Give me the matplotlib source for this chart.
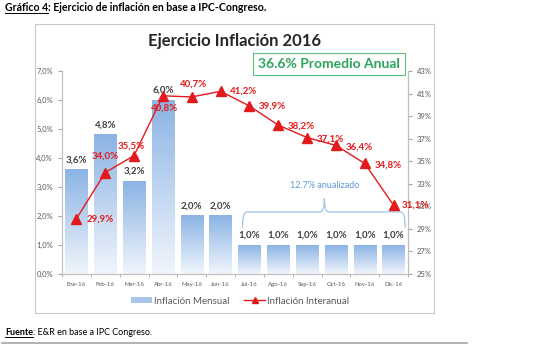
import numpy as np
import matplotlib
matplotlib.use("Agg")
import matplotlib.pyplot as plt
from matplotlib.patches import Rectangle, Patch, PathPatch
from matplotlib.lines import Line2D
from matplotlib.path import Path
from matplotlib.colors import LinearSegmentedColormap

plt.rcParams['font.family'] = ['Lato', 'DejaVu Sans']

# data
months = ["Ene-16", "Feb-16", "Mar-16", "Abr-16", "May-16", "Jun-16",
          "Jul-16", "Ago-16", "Sep-16", "Oct-16", "Nov-16", "Dic-16"]
mensual = [3.6, 4.8, 3.2, 6.0, 2.0, 2.0, 1.0, 1.0, 1.0, 1.0, 1.0, 1.0]
interanual = [29.9, 34.0, 35.5, 40.8, 40.7, 41.2, 39.9, 38.2, 37.1, 36.4, 34.8, 31.1]
left_ticks = [0, 1, 2, 3, 4, 5, 6, 7]
right_ticks = [25, 27, 29, 31, 33, 35, 37, 39, 41, 43]

RED = "#e31a1c"
GRAY = "#595959"

fig = plt.figure(figsize=(5.54, 3.45), dpi=100)
ax = fig.add_axes([62 / 554, 1 - 274 / 345, (408 - 62) / 554, (274 - 71) / 345])
ax2 = ax.twinx()

x = np.arange(len(months))
w = 0.77
cmap = LinearSegmentedColormap.from_list("g", ["#f0f5fc", "#8cb4e4"])
grad = np.linspace(0, 1, 100).reshape(-1, 1)
for xi, v in zip(x, mensual):
    ax.imshow(grad, extent=[xi - w / 2, xi + w / 2, 0, v], origin="lower",
              cmap=cmap, aspect="auto", zorder=1)
    ax.text(xi, v + 0.18, f"{v:.1f}%".replace(".", ","), ha="center", va="bottom",
            fontsize=7, fontweight="bold", color="#404040")

ax.set_xlim(-0.5, len(months) - 0.5)
ax.set_ylim(0, 7)
ax.set_yticks(left_ticks)
ax.set_yticklabels([f"{t:.1f}%".replace(".", ",") for t in left_ticks])
ax.set_xticks(x)
ax.set_xticklabels(months)
ax.set_xticks(np.arange(-0.5, len(months)), minor=True)
ax.tick_params(axis="x", which="major", length=0, labelsize=4.3, labelcolor=GRAY, pad=6)
ax.tick_params(axis="x", which="minor", length=2.5, color="#a6a6a6")
ax.tick_params(axis="y", length=3, color="#a6a6a6", labelsize=5.5, labelcolor=GRAY)

ax2.plot(x, interanual, color=RED, lw=1, marker="^", ms=6.5, zorder=5)
ax2.set_ylim(25, 43)
ax2.set_yticks(right_ticks)
ax2.set_yticklabels([f"{t}%" for t in right_ticks])
ax2.tick_params(axis="y", length=3, color="#a6a6a6", labelsize=5.5, labelcolor=GRAY)

# label offsets in points (dx, dy)
offs = [(7, 0, "left"), (0, 12, "center"), (-2, 7, "center"), (1, -9, "center"),
        (1, 9, "center"), (7, 0, "left"), (7, 0, "left"), (7, -1, "left"),
        (7, -1, "left"), (7, -1, "left"), (7, -1, "left"), (6, 0, "left")]
for xi, v, (dx, dy, ha) in zip(x, interanual, offs):
    ax2.annotate(f"{v:.1f}%".replace(".", ","), (xi, v), xytext=(dx, dy),
                 textcoords="offset points", ha=ha, va="center",
                 fontsize=7, fontweight="bold", color=RED, zorder=6)

for a in (ax, ax2):
    a.spines["top"].set_visible(False)
    for s in ("left", "right", "bottom"):
        a.spines[s].set_color("#bfbfbf")
        a.spines[s].set_linewidth(0.8)
    a.patch.set_visible(False)

# brace over Jul-Dic
x0, x1, xm, yb, ye, yt, r = 5.76, 11.4, 8.6, 2.14, 1.6, 2.6, 0.15
verts = [(x0, ye), (x0, yb), (x0 + r, yb), (xm - r, yb), (xm, yb), (xm, yt),
         (xm, yt), (xm, yb), (xm + r, yb), (x1 - r, yb), (x1, yb), (x1, ye)]
codes = [Path.MOVETO, Path.CURVE3, Path.CURVE3, Path.LINETO, Path.CURVE3, Path.CURVE3,
         Path.MOVETO, Path.CURVE3, Path.CURVE3, Path.LINETO, Path.CURVE3, Path.CURVE3]
ax.add_patch(PathPatch(Path(verts, codes), fill=False, ec="#9dc3e6", lw=0.9,
                       clip_on=False, zorder=3))
ax.text(xm, 3.05, "12.7% anualizado", ha="center", va="center", fontsize=6.5,
        color="#5b9bd5", zorder=4)

# title and annual average box
fig.text(235 / 554, 1 - 41 / 345, "Ejercicio Inflación 2016", ha="center", va="center",
         fontsize=12, fontweight="bold", color="#262626")
fig.text(329 / 554, 1 - 64 / 345, "36.6% Promedio Anual", ha="center", va="center",
         fontsize=10, fontweight="bold", color="#2ca55a",
         bbox=dict(boxstyle="square,pad=0.35", fc="white", ec="#5cbf7e", lw=0.8))

# chart border
fig.add_artist(Rectangle((35 / 554, 1 - 313 / 345), (434 - 35) / 554, (313 - 24) / 345,
                         transform=fig.transFigure, fill=False, ec="#c8c8c8", lw=0.8))

# legend
handles = [Patch(fc="#a9c6ea", ec="none"),
           Line2D([], [], color=RED, lw=1, marker="^", ms=4.5)]
fig.legend(handles, ["Inflación Mensual", "Inflación Interanual"],
           loc="center", bbox_to_anchor=(240 / 554, 1 - 301 / 345), ncol=2,
           frameon=False, fontsize=7, labelcolor=GRAY, handlelength=2.2,
           handleheight=0.5, columnspacing=1.5, handletextpad=0.2)

# header and footer with underlined bold words
def underlined(xp, yp, bold_word, rest, rest_weight, size):
    t = fig.text(xp, yp, bold_word, ha="left", va="baseline", fontsize=size,
                 fontweight="bold", color="black")
    fig.canvas.draw()
    bb = t.get_window_extent().transformed(fig.transFigure.inverted())
    fig.add_artist(Line2D([bb.x0, bb.x1], [yp - 0.006, yp - 0.006],
                          transform=fig.transFigure, color="black", lw=0.7))
    fig.text(bb.x1, yp, rest, ha="left", va="baseline", fontsize=size,
             fontweight=rest_weight, color="black")

underlined(5 / 554, 1 - 11 / 345, "Gráfico 4", ": Ejercicio de inflación en base a IPC-Congreso.", "bold", 7.6)
underlined(5 / 554, 1 - 335 / 345, "Fuente", ": E&R en base a IPC Congreso.", "normal", 6.5)
fig.add_artist(Line2D([2 / 554, 467 / 554], [1 - 343 / 345] * 2, transform=fig.transFigure,
                      color="#a6a6a6", lw=1.2))

fig.savefig("out.png", dpi=100)
